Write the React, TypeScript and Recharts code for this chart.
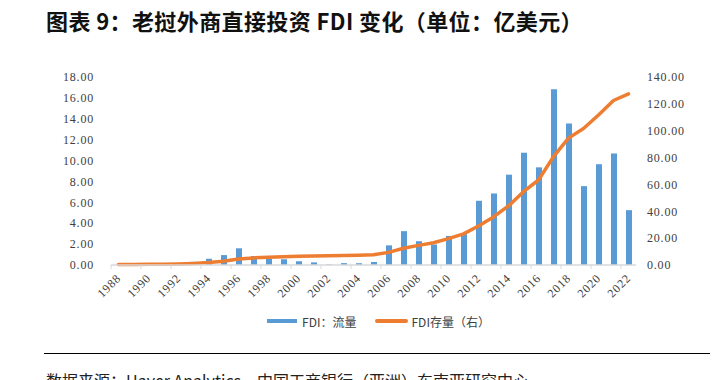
import React from 'react';
import { ComposedChart, Bar, Line, XAxis, YAxis, Legend } from 'recharts';

// Laos FDI: annual flow (left axis) and stock (right axis), USD 100m
const years = [
  1988, 1989, 1990, 1991, 1992, 1993, 1994, 1995, 1996, 1997, 1998, 1999,
  2000, 2001, 2002, 2003, 2004, 2005, 2006, 2007, 2008, 2009, 2010, 2011,
  2012, 2013, 2014, 2015, 2016, 2017, 2018, 2019, 2020, 2021, 2022,
];

const fdiFlow = [
  0.02, 0.03, 0.04, 0.06, 0.08, 0.3, 0.6, 0.95, 1.6, 0.86, 0.6, 0.55,
  0.36, 0.25, 0.05, 0.18, 0.17, 0.29, 1.88, 3.24, 2.28, 1.96, 2.78, 2.95,
  6.15, 6.85, 8.65, 10.75, 9.35, 16.83, 13.55, 7.55, 9.65, 10.68, 5.25,
];

const fdiStock = [
  0.3, 0.4, 0.5, 0.6, 0.8, 1.2, 1.8, 2.8, 4.5, 5.3, 5.8, 6.2,
  6.5, 6.7, 6.8, 7.0, 7.2, 7.6, 9.4, 12.5, 14.6, 16.6, 19.6, 23.2,
  29.0, 35.8, 44.0, 54.6, 63.3, 80.7, 94.5, 101.7, 111.7, 122.5, 127.4,
];

const leftTicks = [0, 2, 4, 6, 8, 10, 12, 14, 16, 18];
const rightTicks = [0, 20, 40, 60, 80, 100, 120, 140];

const data = years.map((year, i) => ({ year, flow: fdiFlow[i], stock: fdiStock[i] }));

const BLUE = '#5B9BD5';
const ORANGE = '#ED7D31';
const serif = '"Liberation Serif", "Noto Sans CJK SC", serif';
const cjk = '"Noto Sans CJK SC", sans-serif';

// tick text rotated like Excel, tick mark on the left edge of the category
const XTick = (props: any) => {
  const { x, y, payload } = props;
  return (
    <g>
      <line x1={x - 7.5} x2={x - 7.5} y1={y} y2={y + 4} stroke="#D9D9D9" />
      <text
        transform={`translate(${x + 3},${y + 14}) rotate(-45)`}
        textAnchor="end"
        fontFamily={serif}
        fontSize={12}
        letterSpacing={0.8}
        fill="#404040"
      >
        {payload.value}
      </text>
    </g>
  );
};

const LegendBox = () => (
  <div style={{ height: 20, display: 'flex', justifyContent: 'center', alignItems: 'center', fontFamily: cjk, fontSize: 12, color: '#404040' }}>
    <span style={{ display: 'inline-block', width: 30, height: 4, background: BLUE, marginRight: 5 }} />
    <span style={{ marginRight: 18 }}>FDI：流量</span>
    <span style={{ display: 'inline-block', width: 33, height: 4, borderRadius: 2, background: ORANGE, marginRight: 4 }} />
    <span>FDI存量（右）</span>
  </div>
);

export default function App() {
  return (
    <div style={{ position: 'absolute', left: 0, top: 0, width: 728, height: 380, background: '#fff', overflow: 'hidden' }}>
      <div style={{ position: 'absolute', left: 46, top: 7, fontFamily: cjk, fontSize: 22, lineHeight: '26px', fontWeight: 700, color: '#111', whiteSpace: 'nowrap', letterSpacing: 0.4 }}>
        图表 9：老挝外商直接投资 FDI 变化（单位：亿美元）
      </div>

      <div style={{ position: 'absolute', left: 0, top: 0 }}>
        <ComposedChart width={728} height={380} data={data} margin={{ top: 77, right: 22, bottom: 49, left: 51 }}>
          <XAxis
            dataKey="year"
            interval={1}
            tick={<XTick />}
            tickLine={false}
            tickSize={0}
            tickMargin={0}
            height={46}
            axisLine={{ stroke: '#D9D9D9', strokeWidth: 1.5 }}
          />
          <YAxis
            yAxisId="left"
            domain={[0, 18]}
            ticks={leftTicks}
            tickFormatter={(v: number) => v.toFixed(2)}
            width={60}
            tickSize={0}
            tickMargin={17}
            axisLine={false}
            tickLine={false}
            tick={{ fontFamily: serif, fontSize: 12, fill: '#404040', letterSpacing: 0.8 }}
          />
          <YAxis
            yAxisId="right"
            orientation="right"
            domain={[0, 140]}
            ticks={rightTicks}
            tickFormatter={(v: number) => v.toFixed(2)}
            width={70}
            tickSize={0}
            tickMargin={11}
            axisLine={false}
            tickLine={false}
            tick={{ fontFamily: serif, fontSize: 12, fill: '#404040', textAnchor: 'start', letterSpacing: 0.8 }}
          />
          <Legend verticalAlign="bottom" content={<LegendBox />} />
          <Bar yAxisId="left" dataKey="flow" name="FDI：流量" fill={BLUE} barSize={6} isAnimationActive={false} />
          <Line
            yAxisId="right"
            dataKey="stock"
            name="FDI存量（右）"
            type="linear"
            stroke={ORANGE}
            strokeWidth={3.5}
            strokeLinecap="round"
            strokeLinejoin="round"
            dot={false}
            activeDot={false}
            isAnimationActive={false}
          />
        </ComposedChart>
      </div>

      <div style={{ position: 'absolute', left: 44, top: 353, width: 666, height: 1, background: '#000' }} />
      <div style={{ position: 'absolute', left: 46, top: 371, fontFamily: cjk, fontSize: 16, lineHeight: '18px', color: '#222', whiteSpace: 'nowrap' }}>
        数据来源：Haver Analytics，中国工商银行（亚洲）东南亚研究中心
      </div>
    </div>
  );
}
